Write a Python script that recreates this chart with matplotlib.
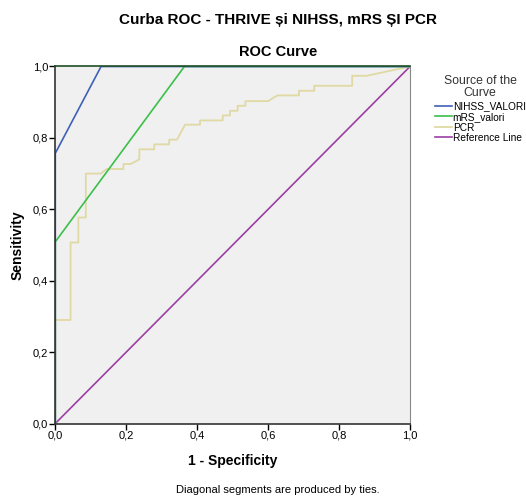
import matplotlib
matplotlib.use("Agg")
import matplotlib.pyplot as plt
import numpy as np

plt.rcParams['font.family'] = ['Liberation Sans', 'DejaVu Sans']

# --- Date ---
nihss_fpr = [0.0, 0.0, 0.129, 1.0]
nihss_tpr = [0.0, 0.757, 1.0, 1.0]

mrs_fpr = [0.0, 0.0, 0.364, 1.0]
mrs_tpr = [0.0, 0.509, 1.0, 1.0]

pcr_fpr = [0.0, 0.0, 0.043, 0.043, 0.065, 0.065, 0.086, 0.086, 0.128, 0.145,
           0.192, 0.192, 0.213, 0.237, 0.237, 0.279, 0.279, 0.321, 0.321, 0.343,
           0.366, 0.408, 0.408, 0.472, 0.472, 0.4925, 0.4925, 0.514, 0.514, 0.536,
           0.536, 0.600, 0.626, 0.687, 0.687, 0.730, 0.730, 0.837, 0.837, 0.878, 1.0]
pcr_tpr = [0.0, 0.290, 0.290, 0.507, 0.507, 0.577, 0.577, 0.700, 0.700, 0.713,
           0.713, 0.727, 0.727, 0.740, 0.768, 0.768, 0.782, 0.782, 0.795, 0.795,
           0.837, 0.837, 0.849, 0.849, 0.863, 0.863, 0.876, 0.876, 0.890, 0.890,
           0.903, 0.903, 0.919, 0.919, 0.932, 0.932, 0.946, 0.946, 0.974, 0.974, 1.0]

ref_x = [0.0, 1.0]
ref_y = [0.0, 1.0]

ticks = [0.0, 0.2, 0.4, 0.6, 0.8, 1.0]
tick_labels = ['0,0', '0,2', '0,4', '0,6', '0,8', '1,0']

# --- Figura ---
fig = plt.figure(figsize=(5.26, 4.97), dpi=100)
ax = fig.add_axes([55.3 / 526, 1 - 423.5 / 497, 354.7 / 526, 357 / 497])
ax.set_facecolor('#f0f0f0')

ax.plot(ref_x, ref_y, color='#9b3fa3', lw=1.2, label='Reference Line', zorder=2)
ax.plot(pcr_fpr, pcr_tpr, color='#e0d9a3', lw=1.3, label='PCR', zorder=3)
ax.plot(mrs_fpr, mrs_tpr, color='#3cbf4a', lw=1.2, label='mRS_valori', zorder=4)
ax.plot(nihss_fpr, nihss_tpr, color='#3f60b8', lw=1.2, label='NIHSS_VALORI', zorder=5)

ax.set_xlim(0, 1)
ax.set_ylim(0, 1)
ax.set_xticks(ticks)
ax.set_xticklabels(tick_labels)
ax.set_yticks(ticks)
ax.set_yticklabels(tick_labels)
ax.tick_params(direction='out', length=4, width=1, labelsize=8, pad=1)

for s in ['left', 'bottom']:
    ax.spines[s].set_color('#333333')
    ax.spines[s].set_linewidth(1.2)
ax.spines['top'].set_color('#1f4f24')
ax.spines['top'].set_linewidth(1.2)
ax.spines['right'].set_color('#888888')
for s in ax.spines.values():
    s.set_zorder(6)

ax.set_xlabel('1 - Specificity', fontsize=10, fontweight='bold', labelpad=10)
ax.set_ylabel('Sensitivity', fontsize=10, fontweight='bold', labelpad=6)

# titluri
fig.text(278 / 526, 1 - 20 / 497, 'Curba ROC - THRIVE și NIHSS, mRS ȘI PCR',
         ha='center', va='center', fontsize=11, fontweight='bold')
fig.text(278 / 526, 1 - 52 / 497, 'ROC Curve', ha='center', va='center',
         fontsize=10.5, fontweight='bold')
fig.text(278 / 526, 1 - 490 / 497, 'Diagonal segments are produced by ties.',
         ha='center', va='center', fontsize=8)

# legenda
fig.text(480 / 526, 1 - 80.7 / 497, 'Source of the', ha='center', va='center',
         fontsize=8.8, color='#333333')
fig.text(480 / 526, 1 - 92.7 / 497, 'Curve', ha='center', va='center',
         fontsize=8.8, color='#333333')
handles, labels = ax.get_legend_handles_labels()
order = [3, 2, 1, 0]
leg = fig.legend([handles[i] for i in order], [labels[i] for i in order],
                 loc='upper left', bbox_to_anchor=(435 / 526, 1 - 101.5 / 497),
                 frameon=False, fontsize=7.3, handlelength=1.65,
                 handletextpad=0.1, labelspacing=0.05, borderaxespad=0,
                 borderpad=0)

fig.savefig('out.png', dpi=100)
